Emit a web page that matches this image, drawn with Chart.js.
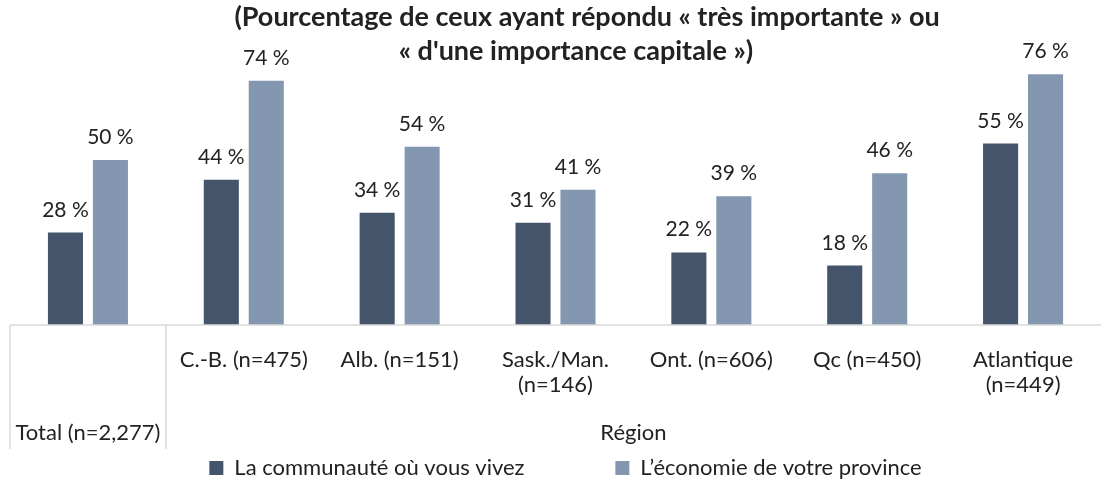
<!DOCTYPE html>
<html>
<head>
<meta charset="utf-8">
<script src="https://cdn.jsdelivr.net/npm/chart.js@4"></script>
<style>
  html, body { margin: 0; padding: 0; background: #fff; }
  #wrap { width: 1101px; height: 483px; }
</style>
</head>
<body>
<div id="wrap"><canvas id="myChart"></canvas></div>
<script>
const titleLines = ['(Pourcentage de ceux ayant répondu « très importante » ou', '« d\'une importance capitale »)'];
const categories = ['Total (n=2,277)', 'C.-B. (n=475)', 'Alb. (n=151)', ['Sask./Man.', '(n=146)'], 'Ont. (n=606)', 'Qc (n=450)', ['Atlantique', '(n=449)']];
const groupLabels = ['Total (n=2,277)', 'Région'];
const groupSpans = [[0, 0], [1, 6]];
const seriesNames = ['La communauté où vous vivez', 'L\u2019économie de votre province'];
const communaute = [28, 44, 34, 31, 22, 18, 55];
const economie = [50, 74, 54, 41, 39, 46, 76];

const FONT = 'Lato, "Open Sans", sans-serif';
const TXT = '#222';
const LINE = '#d9d9d9';

// title drawn over the plot, like the original
const titlePlugin = {
  id: 'titleOver',
  afterDraw(chart) {
    const ctx = chart.ctx;
    ctx.save();
    ctx.font = 'bold 27px ' + FONT;
    ctx.fillStyle = TXT;
    ctx.textAlign = 'center';
    ctx.textBaseline = 'alphabetic';
    ctx.fillText(titleLines[0], 587, 26);
    ctx.fillText(titleLines[1], 576, 60);
    ctx.restore();
  }
};

const valueLabels = {
  id: 'valueLabels',
  afterDatasetsDraw(chart) {
    const ctx = chart.ctx;
    ctx.save();
    ctx.font = '21px ' + FONT;
    ctx.fillStyle = TXT;
    ctx.textAlign = 'center';
    ctx.textBaseline = 'alphabetic';
    chart.data.datasets.forEach((ds, i) => {
      chart.getDatasetMeta(i).data.forEach((bar, j) => {
        ctx.fillText(ds.data[j] + ' %', bar.x, bar.y - 16);
      });
    });
    ctx.restore();
  }
};

// table-like lines and group labels under the axis
const axisTable = {
  id: 'axisTable',
  afterLayout(chart) {
    // nudge the legend row to the right, as in the original
    chart.legend.left = 30;
  },
  afterDraw(chart) {
    const ctx = chart.ctx;
    const x = chart.scales.x;
    const top = chart.chartArea.bottom;
    const half = (x.getPixelForValue(1) - x.getPixelForValue(0)) / 2;
    ctx.save();
    ctx.strokeStyle = LINE;
    ctx.lineWidth = 1.5;
    ctx.beginPath();
    ctx.moveTo(chart.chartArea.left, top);
    ctx.lineTo(chart.chartArea.right, top);
    groupSpans.forEach(s => {
      const l = x.getPixelForValue(s[0]) - half;
      ctx.moveTo(l, top);
      ctx.lineTo(l, top + 124);
    });
    ctx.stroke();
    ctx.font = '22px ' + FONT;
    ctx.fillStyle = TXT;
    ctx.textAlign = 'center';
    ctx.textBaseline = 'middle';
    groupSpans.forEach((s, i) => {
      const cx = (x.getPixelForValue(s[0]) + x.getPixelForValue(s[1])) / 2;
      ctx.fillText(groupLabels[i], cx, top + 108);
    });
    ctx.restore();
  }
};

const ctx = document.getElementById('myChart').getContext('2d');
const myChart = new Chart(ctx, {
  type: 'bar',
  data: {
    labels: categories,
    datasets: [
      {
        label: seriesNames[0],
        data: communaute,
        backgroundColor: '#44546A',
        categoryPercentage: 0.577,
        barPercentage: 0.78,
      },
      {
        label: seriesNames[1],
        data: economie,
        backgroundColor: '#8497B0',
        categoryPercentage: 0.577,
        barPercentage: 0.78,
      },
    ],
  },
  options: {
    responsive: true,
    maintainAspectRatio: false,
    animation: false,
    layout: { padding: { left: 10, right: 0, top: 0, bottom: -6 } },
    scales: {
      x: {
        grid: { display: false, drawTicks: false },
        border: { display: false },
        ticks: {
          padding: 22,
          color: TXT,
          font: { family: FONT, size: 22, lineHeight: 1.14 },
          maxRotation: 0,
          autoSkip: false,
          callback: function(v, i) { return i === 0 ? '' : categories[i]; },
        },
        afterFit: function(scale) { scale.height = 75; },
      },
      y: {
        display: false,
        min: 0,
        max: 98.5,
      },
    },
    plugins: {
      legend: {
        position: 'bottom',
        labels: {
          color: TXT,
          font: { family: FONT, size: 22 },
          boxWidth: 14,
          boxHeight: 14,
          padding: 57,
          generateLabels: function(chart) {
            const items = Chart.defaults.plugins.legend.labels.generateLabels(chart);
            items[0].text += '\u00a0'.repeat(6);
            return items;
          },
        },
      },
      title: { display: false },
      tooltip: { enabled: false },
    },
  },
  plugins: [titlePlugin, valueLabels, axisTable],
});
</script>
</body>
</html>
